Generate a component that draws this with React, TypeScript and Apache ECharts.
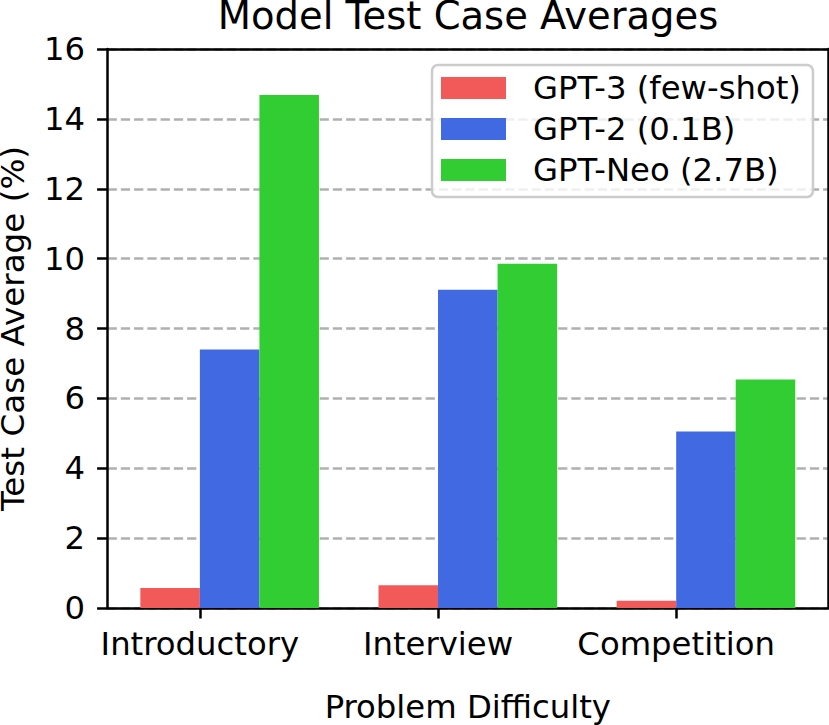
import React, { useEffect, useRef } from "react";
import * as echarts from "echarts";

const categories = ["Introductory", "Interview", "Competition"];
const seriesNames = ["GPT-3 (few-shot)", "GPT-2 (0.1B)", "GPT-Neo (2.7B)"];
const gpt3Values = [0.57, 0.65, 0.21];
const gpt2Values = [7.4, 9.11, 5.05];
const gptNeoValues = [14.68, 9.85, 6.54];
const seriesColors = ["#f25a5a", "#4169e1", "#32cd32"];
const yTicks = { min: 0, max: 16, interval: 2 };
const xRange = { min: -0.3875, max: 2.6375 };
const groupOffset = 0.125;

const FONT = "DejaVu Sans";

export default function App() {
  const ref = useRef<HTMLDivElement>(null);
  useEffect(() => {
    if (!ref.current) return;
    const chart = echarts.init(ref.current, null, { renderer: "svg" });
    const gridLeft = 107.6;
    const gridRight = 1;
    const plotWidth = 829 - gridLeft - gridRight;
    const pxPerUnit = plotWidth / (xRange.max - xRange.min);
    const barWidth = 0.25 * pxPerUnit;
    const allValues = [gpt3Values, gpt2Values, gptNeoValues];
    const tickVals = categories.map((_, i) => i);

    const spineAxis = {
      axisLine: { show: true, onZero: false, lineStyle: { color: "#000", width: 2.5 } },
      axisTick: { show: false },
      axisLabel: { show: false },
      splitLine: { show: false },
    };

    chart.setOption({
      animation: false,
      backgroundColor: "#fff",
      title: {
        text: "Model Test Case Averages",
        left: 468,
        top: 0,
        padding: 0,
        textAlign: "center",
        textStyle: {
          fontFamily: FONT,
          fontSize: 38.5,
          lineHeight: 31,
          fontWeight: "normal",
          color: "#000",
        },
      },
      legend: {
        orient: "vertical",
        left: 432,
        top: 65,
        padding: [7, 12, 11, 9],
        itemWidth: 65,
        itemHeight: 22,
        itemGap: 9,
        icon: "rect",
        backgroundColor: "rgba(255,255,255,0.8)",
        borderColor: "#cccccc",
        borderWidth: 2.5,
        borderRadius: 6,
        textStyle: {
          fontFamily: FONT,
          fontSize: 32.3,
          lineHeight: 32,
          color: "#000",
          padding: [0, 0, 0, 22],
        },
        data: seriesNames,
      },
      grid: {
        left: gridLeft,
        right: gridRight,
        top: 49,
        bottom: 117,
        outerBoundsMode: "none",
        containLabel: false,
      },
      xAxis: [
        {
          type: "value",
          min: xRange.min,
          max: xRange.max,
          name: "Problem Difficulty",
          nameLocation: "middle",
          nameGap: 83,
          nameTextStyle: { fontFamily: FONT, fontSize: 32.3, color: "#000" },
          axisLine: { show: true, onZero: false, lineStyle: { color: "#000", width: 2.5 } },
          axisTick: {
            show: true,
            length: 10.5,
            lineStyle: { color: "#000", width: 2.5 },
            customValues: tickVals,
          },
          axisLabel: {
            show: true,
            customValues: tickVals,
            margin: 19.5,
            fontFamily: FONT,
            fontSize: 32.3,
            color: "#000",
            formatter: (v: number) => categories[Math.round(v)] ?? "",
          },
          splitLine: { show: false },
        },
        {
          type: "value",
          position: "top",
          min: xRange.min,
          max: xRange.max,
          ...spineAxis,
        },
      ],
      yAxis: [
        {
          type: "value",
          min: yTicks.min,
          max: yTicks.max,
          interval: yTicks.interval,
          name: "Test Case Average (%)",
          nameLocation: "middle",
          nameGap: 82,
          nameRotate: 90,
          nameTextStyle: {
            fontFamily: FONT,
            fontSize: 32.6,
            lineHeight: 26,
            color: "#000",
          },
          axisLine: { show: true, onZero: false, lineStyle: { color: "#000", width: 2.5 } },
          axisTick: { show: true, length: 10.5, lineStyle: { color: "#000", width: 2.5 } },
          axisLabel: {
            margin: 22.6,
            fontFamily: FONT,
            fontSize: 32.3,
            color: "#000",
          },
          splitLine: {
            show: true,
            lineStyle: { color: "#b0b0b0", width: 2.5, type: [9.25, 4] },
          },
        },
        {
          type: "value",
          position: "right",
          min: yTicks.min,
          max: yTicks.max,
          ...spineAxis,
        },
      ],
      series: seriesNames.map((name, s) => ({
        name,
        type: "bar",
        xAxisIndex: 0,
        yAxisIndex: 0,
        barWidth,
        barGap: "0%",
        itemStyle: { color: seriesColors[s] },
        data: allValues[s].map((v, i) => [i + groupOffset, v]),
      })),
    });
    return () => chart.dispose();
  }, []);
  return (
    <div
      ref={ref}
      style={{ position: "fixed", left: 0, top: 0, width: 829, height: 725 }}
    />
  );
}
